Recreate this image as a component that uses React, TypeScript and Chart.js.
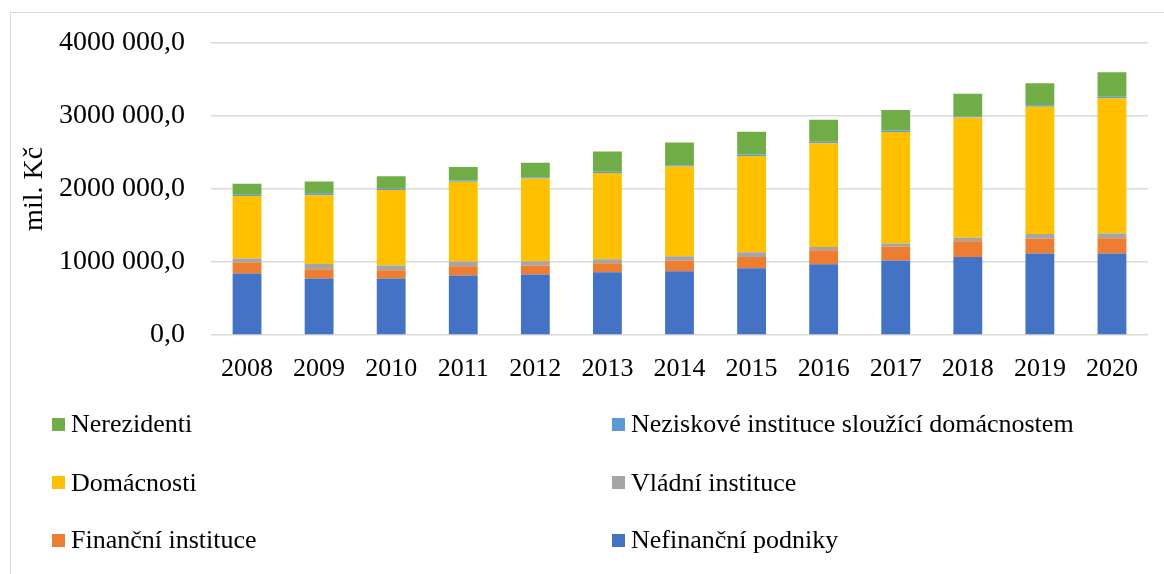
import React, { useEffect, useRef } from "react";
import { Chart, registerables } from "chart.js";

Chart.register(...registerables);

const years = ["2008", "2009", "2010", "2011", "2012", "2013", "2014", "2015", "2016", "2017", "2018", "2019", "2020"];

const nefinancniPodniky = [842000, 774000, 774000, 815000, 829000, 860000, 874000, 915000, 969000, 1019000, 1069000, 1114000, 1116000];
const financniInstituce = [150000, 126000, 113000, 127000, 122000, 122000, 145000, 154000, 190000, 190000, 213000, 208000, 208000];
const vladniInstituce = [54000, 72000, 64000, 64000, 59000, 54000, 59000, 64000, 45000, 45000, 50000, 59000, 64000];
const domacnosti = [856000, 942000, 1033000, 1091000, 1132000, 1182000, 1227000, 1318000, 1422000, 1526000, 1644000, 1743000, 1852000];
const neziskoveInstituce = [18000, 27000, 18000, 18000, 18000, 18000, 18000, 20000, 20000, 20000, 20000, 22000, 22000];
const nerezidenti = [150000, 159000, 172000, 186000, 199000, 277000, 312000, 310000, 302000, 279000, 306000, 300000, 336000];

const yTickLabels = ["0,0", "1000 000,0", "2000 000,0", "3000 000,0", "4000 000,0"];
const yAxisTitle = "mil. Kč";

const seriesNames = [
  "Nefinanční podniky",
  "Finanční instituce",
  "Vládní instituce",
  "Domácnosti",
  "Neziskové instituce sloužící domácnostem",
  "Nerezidenti",
];
const seriesColors = ["#4472C4", "#ED7D31", "#A5A5A5", "#FFC000", "#5B9BD5", "#70AD47"];
const seriesData = [nefinancniPodniky, financniInstituce, vladniInstituce, domacnosti, neziskoveInstituce, nerezidenti];

// legend layout: rows (left, right) by series index
const legendRows = [
  [5, 4],
  [3, 2],
  [1, 0],
];

const FONT = "'Liberation Serif', 'Times New Roman', serif";

export default function App() {
  const canvasRef = useRef<HTMLCanvasElement | null>(null);

  useEffect(() => {
    const canvas = canvasRef.current;
    if (!canvas) return;
    const chart = new Chart(canvas, {
      type: "bar",
      data: {
        labels: years,
        datasets: seriesNames.map((name, i) => ({
          label: name,
          data: seriesData[i],
          backgroundColor: seriesColors[i],
          borderWidth: 0,
          barPercentage: 0.4,
          categoryPercentage: 1,
        })),
      },
      options: {
        animation: false,
        responsive: false,
        devicePixelRatio: 1,
        layout: { padding: { left: 10, top: 41, right: 16, bottom: 0 } },
        plugins: {
          legend: { display: false },
          tooltip: { enabled: false },
          title: { display: false },
        },
        scales: {
          x: {
            stacked: true,
            grid: { display: false, drawTicks: false },
            border: { display: false },
            ticks: {
              color: "#000",
              font: { family: FONT, size: 26 },
              padding: 19,
              maxRotation: 0,
              autoSkip: false,
            },
            afterFit: (scale: any) => {
              scale.height = 239;
            },
          },
          y: {
            stacked: true,
            min: 0,
            max: 4000000,
            grid: { color: "#d9d9d9", lineWidth: 1.5, drawTicks: false },
            border: { display: false },
            ticks: {
              stepSize: 1000000,
              color: "#000",
              font: { family: FONT, size: 28 },
              padding: 26,
              callback: (v: any) => yTickLabels[Math.round(Number(v) / 1000000)],
            },
            title: {
              display: true,
              text: yAxisTitle,
              color: "#000",
              font: { family: FONT, size: 28 },
              padding: { top: 8, bottom: 0 },
            },
            afterFit: (scale: any) => {
              scale.width = 201;
            },
          },
        },
      },
    });
    return () => chart.destroy();
  }, []);

  const rowCenters = [424, 482.5, 540];
  const colLefts = [52, 612];

  return (
    <div style={{ position: "absolute", left: 0, top: 0, width: 1164, height: 574, background: "#fff", overflow: "hidden" }}>
      <div
        style={{
          position: "absolute",
          left: 10,
          top: 12,
          width: 1200,
          height: 600,
          borderTop: "1px solid #d9d9d9",
          borderLeft: "1px solid #d9d9d9",
        }}
      />
      <canvas ref={canvasRef} width={1164} height={574} style={{ position: "absolute", left: 0, top: 0, width: 1164, height: 574 }} />
      {legendRows.map((row, r) =>
        row.map((si, c) => (
          <div
            key={`${r}-${c}`}
            style={{
              position: "absolute",
              left: colLefts[c],
              top: rowCenters[r] - 15,
              height: 30,
              display: "flex",
              alignItems: "center",
              fontFamily: FONT,
              fontSize: 26,
              lineHeight: "30px",
              color: "#000",
              whiteSpace: "nowrap",
            }}
          >
            <span style={{ display: "inline-block", width: 13, height: 13, background: seriesColors[si], marginRight: 6 }} />
            <span>{seriesNames[si]}</span>
          </div>
        ))
      )}
    </div>
  );
}
